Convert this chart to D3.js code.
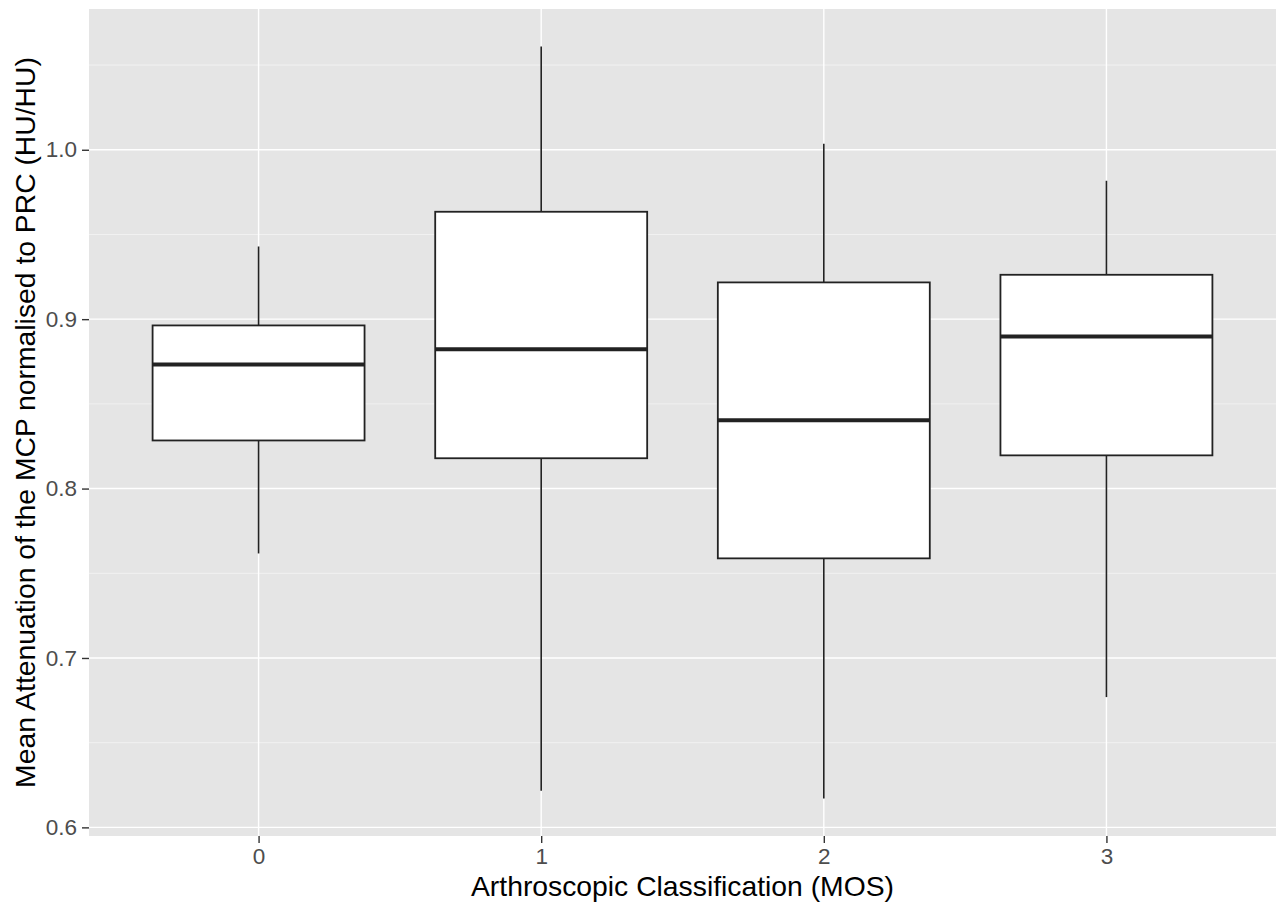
<!DOCTYPE html>
<html>
<head>
<meta charset="utf-8">
<script src="https://cdn.jsdelivr.net/npm/d3@7"></script>
<style>
  html, body { margin: 0; padding: 0; background: #fff; }
  svg { display: block; font-family: "Liberation Sans", Arial, sans-serif; }
</style>
</head>
<body>
<svg id="chart" width="1276" height="906"></svg>
<script>
// ---- data ----
const categories   = ["0", "1", "2", "3"];
const whiskerLow   = [0.7617, 0.6216, 0.6171, 0.6769];
const q1           = [0.8284, 0.8179, 0.7588, 0.8196];
const median       = [0.8733, 0.8822, 0.8403, 0.8897];
const q3           = [0.8963, 0.9634, 0.9217, 0.9262];
const whiskerHigh  = [0.9429, 1.0609, 1.0035, 0.9817];
const yTicks       = [0.6, 0.7, 0.8, 0.9, 1.0];
const yMinorTicks  = [0.65, 0.75, 0.85, 0.95, 1.05];
const xTitle = "Arthroscopic Classification (MOS)";
const yTitle = "Mean Attenuation of the MCP normalised to PRC (HU/HU)";

// ---- layout ----
const W = 1276, H = 906;
const panel = { left: 89, right: 1276, top: 9, bottom: 836 };

const svg = d3.select("#chart");

const lo = d3.min(whiskerLow), hi = d3.max(whiskerHigh);
const pad = (hi - lo) * 0.05;
const y = d3.scaleLinear().domain([lo - pad, hi + pad]).range([panel.bottom, panel.top]);
const x = d3.scaleLinear().domain([-0.6, categories.length - 1 + 0.6]).range([panel.left, panel.right]);
const boxHalf = (x(1) - x(0)) * 0.75 / 2;

// panel background
svg.append("rect")
  .attr("x", panel.left).attr("y", panel.top)
  .attr("width", panel.right - panel.left).attr("height", panel.bottom - panel.top)
  .attr("fill", "#E5E5E5");

// minor gridlines
svg.append("g").selectAll("line").data(yMinorTicks).join("line")
  .attr("x1", panel.left).attr("x2", panel.right)
  .attr("y1", d => y(d)).attr("y2", d => y(d))
  .attr("stroke", "#F5F5F5").attr("stroke-width", 0.8);

// major gridlines
svg.append("g").selectAll("line").data(yTicks).join("line")
  .attr("x1", panel.left).attr("x2", panel.right)
  .attr("y1", d => y(d)).attr("y2", d => y(d))
  .attr("stroke", "#FFFFFF").attr("stroke-width", 1.4);
svg.append("g").selectAll("line").data(categories).join("line")
  .attr("x1", (d, i) => x(i)).attr("x2", (d, i) => x(i))
  .attr("y1", panel.top).attr("y2", panel.bottom)
  .attr("stroke", "#FFFFFF").attr("stroke-width", 1.4);

// boxes
const g = svg.append("g");
categories.forEach((c, i) => {
  const cx = x(i);
  g.append("line")
    .attr("x1", cx).attr("x2", cx)
    .attr("y1", y(q3[i])).attr("y2", y(whiskerHigh[i]))
    .attr("stroke", "#222").attr("stroke-width", 1.6);
  g.append("line")
    .attr("x1", cx).attr("x2", cx)
    .attr("y1", y(q1[i])).attr("y2", y(whiskerLow[i]))
    .attr("stroke", "#222").attr("stroke-width", 1.6);
  g.append("rect")
    .attr("x", cx - boxHalf).attr("y", y(q3[i]))
    .attr("width", boxHalf * 2).attr("height", y(q1[i]) - y(q3[i]))
    .attr("fill", "#FFFFFF").attr("stroke", "#222").attr("stroke-width", 1.8);
  g.append("line")
    .attr("x1", cx - boxHalf).attr("x2", cx + boxHalf)
    .attr("y1", y(median[i])).attr("y2", y(median[i]))
    .attr("stroke", "#222").attr("stroke-width", 4);
});

// y axis
const yAxis = d3.axisLeft(y).tickValues(yTicks).tickFormat(d3.format(".1f")).tickSize(7).tickPadding(5);
const ya = svg.append("g").attr("transform", `translate(${panel.left},0)`).call(yAxis);
ya.select(".domain").remove();
ya.selectAll(".tick line").attr("stroke", "#333").attr("stroke-width", 1.4);
ya.selectAll(".tick text").attr("fill", "#4D4D4D").attr("font-size", 22.5)
  .attr("font-family", "Liberation Sans, Arial, sans-serif");

// x axis
const xAxis = d3.axisBottom(x).tickValues(categories.map((c, i) => i))
  .tickFormat((d) => categories[d]).tickSize(7).tickPadding(5);
const xa = svg.append("g").attr("transform", `translate(0,${panel.bottom})`).call(xAxis);
xa.select(".domain").remove();
xa.selectAll(".tick line").attr("stroke", "#333").attr("stroke-width", 1.4);
xa.selectAll(".tick text").attr("fill", "#4D4D4D").attr("font-size", 22.5)
  .attr("font-family", "Liberation Sans, Arial, sans-serif");

// titles
svg.append("text")
  .attr("x", (panel.left + panel.right) / 2).attr("y", 896)
  .attr("text-anchor", "middle").attr("font-size", 28.3).attr("fill", "#000")
  .text(xTitle);
svg.append("text")
  .attr("transform", `translate(35,${(panel.top + panel.bottom) / 2}) rotate(-90)`)
  .attr("text-anchor", "middle").attr("font-size", 28.3).attr("fill", "#000")
  .text(yTitle);
</script>
</body>
</html>
